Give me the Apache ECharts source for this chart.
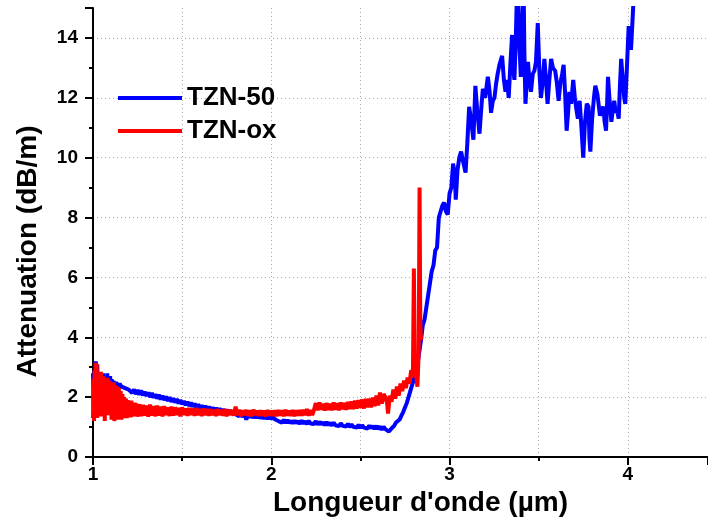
<!DOCTYPE html>
<html>
<head>
<meta charset="utf-8">
<script src="https://cdn.jsdelivr.net/npm/echarts@6/dist/echarts.min.js"></script>
<style>
html,body{margin:0;padding:0;background:#fff;}
#chart{width:708px;height:525px;}
</style>
</head>
<body>
<div id="chart"></div>
<script>
// ---- Data ----
var seriesNames = ['TZN-50', 'TZN-ox'];
var xTicks = [1, 2, 3, 4];

var blueX = [1.000,1.004,1.008,1.012,1.016,1.020,1.024,1.028,1.032,1.036,1.040,1.044,1.048,1.052,1.056,1.060,1.064,1.068,1.072,1.076,1.080,1.084,1.088,1.092,1.096,1.100,1.105,1.110,1.115,1.120,1.130,1.140,1.150,1.160,1.170,1.180,1.190,1.200,
1.210,1.220,1.230,1.240,1.250,1.260,1.270,1.280,1.290,1.300,1.310,1.320,1.330,1.340,1.350,1.360,1.370,1.380,1.390,1.400,1.410,1.420,1.430,1.440,1.450,1.460,1.470,1.480,1.490,1.500,
1.510,1.520,1.530,1.540,1.550,1.560,1.570,1.580,1.590,1.600,1.610,1.620,1.630,1.640,1.650,1.660,1.670,1.680,1.690,1.700,1.710,1.720,1.730,1.740,1.750,1.760,1.770,1.780,1.790,1.800,
1.810,1.820,1.830,1.840,1.850,1.860,1.870,1.880,1.890,1.900,1.910,1.920,1.930,1.940,1.950,1.960,1.970,1.980,1.990,2.000,2.010,2.020,2.030,2.040,2.050,2.060,2.070,2.080,2.090,2.100,
2.110,2.120,2.130,2.140,2.150,2.160,2.170,2.180,2.190,2.200,2.210,2.220,2.230,2.240,2.250,2.260,2.270,2.280,2.290,2.300,2.310,2.320,2.330,2.340,2.350,2.360,2.370,2.380,2.390,2.400,
2.410,2.420,2.430,2.440,2.450,2.460,2.470,2.480,2.490,2.500,2.510,2.520,2.530,2.540,2.550,2.560,2.570,2.580,2.590,2.600,2.610,2.620,2.630,2.640,2.650,2.660,2.670,2.680,2.690,2.700,
2.710,2.720,2.730,2.740,2.750,2.760,2.770,2.780,2.790,2.800,2.810,2.820,2.830,2.840,2.850,2.860,2.870,2.880,2.890,2.900,2.910,2.920,2.930,2.940,2.950,2.960,2.970,2.980,2.990,3.000,
3.010,3.020,3.030,3.035,3.045,3.055,3.065,3.075,3.090,3.100,3.110,3.120,3.134,3.145,3.155,3.168,3.180,3.187,3.200,3.215,3.225,3.233,3.243,3.252,3.262,3.270,3.280,3.295,3.305,3.314,
3.322,3.332,3.342,3.351,3.357,3.364,3.372,3.380,3.390,3.400,3.407,3.415,3.420,3.426,3.433,3.440,3.448,3.457,3.467,3.476,3.485,3.495,3.504,3.513,3.522,3.532,3.540,3.550,3.560,3.570,
3.580,3.593,3.602,3.612,3.622,3.632,3.640,3.648,3.657,3.665,3.672,3.682,3.694,3.703,3.712,3.720,3.730,3.740,3.750,3.760,3.770,3.780,3.785,3.790,3.800,3.810,3.818,3.830,3.844,3.853,
3.863,3.870,3.878,3.884,3.889,3.898,3.908,3.916,3.924,3.932,3.940,3.949,3.956,3.963,3.972,3.980,3.986,3.995,4.005,4.012,4.018,4.025,4.030,4.040];
var blueY = [2.80,1.60,2.90,1.50,3.20,1.60,3.10,1.70,2.60,1.50,2.80,1.80,2.70,1.70,2.80,1.90,2.70,1.80,2.60,1.90,2.80,2.00,2.60,2.00,2.70,2.10,2.60,2.20,2.55,2.30,2.50,2.35,2.45,2.35,2.40,2.30,2.32,2.25,
2.30,2.14,2.26,2.10,2.24,2.08,2.22,2.06,2.18,2.04,2.16,2.00,2.14,1.98,2.10,1.95,2.08,1.92,2.05,1.90,2.02,1.87,2.00,1.84,1.96,1.82,1.94,1.79,1.90,1.76,
1.87,1.73,1.85,1.70,1.82,1.68,1.79,1.65,1.76,1.62,1.73,1.60,1.71,1.58,1.68,1.56,1.66,1.54,1.64,1.52,1.62,1.50,1.60,1.48,1.58,1.46,1.56,1.45,1.54,1.43,
1.48,1.36,1.46,1.34,1.42,1.25,1.44,1.32,1.42,1.31,1.40,1.30,1.40,1.29,1.38,1.28,1.38,1.27,1.36,1.27,1.34,1.26,1.30,1.20,1.26,1.15,1.24,1.14,1.23,1.14,
1.21,1.12,1.22,1.13,1.20,1.11,1.22,1.12,1.19,1.10,1.21,1.12,1.18,1.10,1.20,1.08,1.18,1.09,1.16,1.06,1.17,1.07,1.14,1.05,1.15,1.06,1.12,1.03,1.13,1.04,
1.10,1.02,1.11,1.00,1.09,1.01,1.07,0.98,1.08,0.97,1.06,0.98,1.04,0.95,1.05,0.96,1.03,0.94,1.04,0.93,1.02,0.91,1.01,0.93,0.96,0.85,0.92,0.95,1.05,1.15,
1.20,1.25,1.38,1.50,1.65,1.80,2.00,2.20,2.40,2.60,2.85,3.10,3.50,3.90,4.40,4.60,5.00,5.40,5.80,6.20,6.40,6.90,7.00,8.00,8.20,8.40,8.50,8.20,8.10,8.80,
9.00,9.80,9.40,8.60,9.60,10.00,10.20,9.90,9.50,10.50,11.70,11.30,10.60,12.40,11.60,10.80,11.80,12.30,12.00,12.70,12.20,11.50,11.90,12.00,12.50,12.80,13.10,13.40,12.60,12.20,
12.60,12.00,13.20,14.10,13.00,12.60,14.00,16.00,14.00,12.70,14.50,16.00,13.50,11.80,12.50,13.20,12.60,12.20,12.80,12.90,13.20,14.50,12.90,12.00,12.50,13.30,12.70,11.80,12.60,13.30,
13.00,12.90,12.50,11.90,12.50,12.80,13.10,12.20,10.90,11.50,12.20,11.80,12.60,12.00,11.60,11.30,11.90,11.00,10.00,11.20,11.80,11.70,10.60,10.20,11.30,12.00,12.40,12.10,11.40,11.60,
11.70,11.20,10.90,11.80,12.70,11.90,11.20,11.60,11.90,11.50,11.60,11.30,12.40,13.30,12.60,12.00,11.80,13.00,14.40,14.00,13.60,14.40,15.00,16.00];

var redX = [1.000,1.003,1.006,1.009,1.012,1.015,1.018,1.021,1.024,1.027,1.030,1.033,1.036,1.039,1.042,1.045,1.048,1.051,1.054,1.057,1.060,1.063,1.066,1.069,1.072,1.075,1.078,1.081,1.084,1.087,1.090,1.093,1.096,1.100,
1.104,1.108,1.112,1.116,1.120,1.125,1.130,1.135,1.140,1.145,1.150,1.155,1.160,1.165,1.170,1.175,1.180,1.185,1.190,1.195,1.200,1.205,1.210,1.215,1.220,1.225,1.230,1.235,1.240,1.245,1.250,
1.260,1.270,1.280,1.290,1.300,1.310,1.320,1.330,1.340,1.350,1.360,1.370,1.380,1.390,1.400,1.410,1.420,1.430,1.440,1.450,1.460,1.470,1.480,1.490,1.500,1.510,1.520,1.530,1.540,1.550,
1.560,1.570,1.580,1.590,1.600,1.610,1.620,1.630,1.640,1.650,1.660,1.670,1.680,1.690,1.700,1.710,1.720,1.730,1.740,1.750,1.760,1.770,1.780,1.790,1.800,1.810,1.820,1.830,1.840,1.850,
1.860,1.870,1.880,1.890,1.900,1.910,1.920,1.930,1.940,1.950,1.960,1.970,1.980,1.990,2.000,2.010,2.020,2.030,2.040,2.050,2.060,2.070,2.080,2.090,2.100,2.110,2.120,2.130,2.140,2.150,
2.160,2.170,2.180,2.190,2.200,2.210,2.220,2.230,2.240,2.250,2.260,2.270,2.280,2.290,2.300,2.310,2.320,2.330,2.340,2.350,2.360,2.370,2.380,2.390,2.400,2.410,2.420,2.430,2.440,2.450,
2.460,2.470,2.480,2.490,2.500,2.510,2.520,2.530,2.540,2.550,2.560,2.570,2.580,2.590,2.600,2.610,2.620,2.630,2.640,2.650,2.655,2.665,2.675,2.685,2.695,2.705,2.715,2.725,2.735,2.745,
2.755,2.765,2.775,2.785,2.790,2.795,2.800,2.805,2.810,2.815,2.820,2.827,2.832,2.836,2.840];
var redY = [1.30,2.60,1.20,2.90,1.30,3.15,1.40,3.10,1.30,2.50,1.40,2.80,1.35,2.70,1.40,2.85,1.40,2.60,1.35,2.70,1.45,2.40,1.20,2.65,1.40,2.50,1.45,2.65,1.40,2.30,1.50,2.55,1.45,2.30,
1.25,2.45,1.30,2.50,1.20,2.40,1.30,2.35,1.25,2.30,1.35,2.20,1.25,2.10,1.30,2.00,1.35,1.95,1.30,1.90,1.35,1.85,1.32,1.88,1.35,1.80,1.38,1.82,1.36,1.78,1.35,
1.76,1.36,1.74,1.38,1.72,1.35,1.75,1.38,1.70,1.36,1.72,1.38,1.68,1.36,1.70,1.40,1.66,1.37,1.68,1.38,1.66,1.40,1.64,1.36,1.66,1.40,1.62,1.38,1.64,1.40,
1.62,1.38,1.64,1.40,1.60,1.37,1.62,1.40,1.60,1.38,1.60,1.40,1.58,1.37,1.60,1.40,1.58,1.38,1.60,1.36,1.58,1.40,1.57,1.38,1.68,1.40,1.58,1.36,1.56,1.40,
1.57,1.38,1.56,1.36,1.58,1.40,1.55,1.37,1.56,1.38,1.55,1.36,1.57,1.38,1.55,1.37,1.56,1.36,1.57,1.38,1.56,1.36,1.58,1.38,1.55,1.37,1.57,1.36,1.56,1.38,
1.57,1.38,1.58,1.40,1.60,1.38,1.57,1.40,1.58,1.80,1.56,1.82,1.58,1.78,1.55,1.80,1.57,1.78,1.56,1.82,1.58,1.80,1.56,1.82,1.60,1.80,1.58,1.84,1.60,1.86,
1.60,1.88,1.62,1.90,1.64,1.92,1.62,1.94,1.66,1.95,1.66,1.98,1.70,2.05,1.72,2.15,1.78,2.10,2.00,1.80,1.45,2.05,1.85,2.25,1.95,2.35,2.05,2.45,2.20,2.55,
2.30,2.65,2.45,2.90,2.65,3.00,6.30,3.00,2.90,2.60,2.35,3.50,9.00,4.50,3.90];

// ---- Chart ----
var chart = echarts.init(document.getElementById('chart'), null, {renderer: 'canvas'});
function pairs(xs, ys) { return xs.map(function (x, i) { return [x, ys[i]]; }); }
var FONT = 'Liberation Sans, Arial, sans-serif';
var gridDot = {show: true, lineStyle: {color: '#aaaaaa', width: 1, type: [1, 3]}};

chart.setOption({
  animation: false,
  backgroundColor: '#ffffff',
  grid: {left: 93, right: 0, top: 8, bottom: 68, containLabel: false},
  legend: {
    orient: 'vertical', left: 113, top: 80, itemWidth: 64, itemHeight: 4, itemGap: 7,
    icon: 'rect',
    data: seriesNames,
    textStyle: {fontFamily: FONT, fontWeight: 'bold', fontSize: 26, color: '#000', lineHeight: 26, padding: [0, 0, 0, 0]}
  },
  xAxis: {
    type: 'value', min: 1, max: 4.45, interval: 1,
    name: "Longueur d'onde (µm)", nameLocation: 'middle', nameGap: 30,
    nameTextStyle: {fontFamily: FONT, fontWeight: 'bold', fontSize: 28, color: '#000', padding: [0, 0, 0, 40]},
    axisLine: {show: true, onZero: false, lineStyle: {color: '#000', width: 2}},
    axisTick: {show: true, length: 8, lineStyle: {color: '#000', width: 2}},
    minorTick: {show: true, splitNumber: 2, length: 4, lineStyle: {color: '#000', width: 2}},
    splitLine: Object.assign({showMinLine: false, showMaxLine: false}, gridDot),
    minorSplitLine: gridDot,
    axisLabel: {
      fontFamily: FONT, fontWeight: 'bold', fontSize: 19, color: '#000', margin: 8, showMaxLabel: false,
      formatter: function (v) { return xTicks.indexOf(v) >= 0 ? String(v) : ''; }
    }
  },
  yAxis: {
    type: 'value', min: 0, max: 15, interval: 2,
    name: 'Attenuation (dB/m)', nameLocation: 'middle', nameGap: 51,
    nameTextStyle: {fontFamily: FONT, fontWeight: 'bold', fontSize: 28, color: '#000', padding: [0, 38, 0, 0]},
    axisLine: {show: true, onZero: false, lineStyle: {color: '#000', width: 2}},
    axisTick: {show: true, length: 8, lineStyle: {color: '#000', width: 2}},
    minorTick: {show: true, splitNumber: 2, length: 4, lineStyle: {color: '#000', width: 2}},
    splitLine: Object.assign({showMinLine: false, showMaxLine: false}, gridDot),
    axisLabel: {fontFamily: FONT, fontWeight: 'bold', fontSize: 19, color: '#000', margin: 15, showMaxLabel: false}
  },
  series: [
    {name: seriesNames[0], type: 'line', data: pairs(blueX, blueY), showSymbol: false, symbol: 'none',
     color: '#0000ff', lineStyle: {color: '#0000ff', width: 4}, clip: true, z: 2},
    {name: seriesNames[1], type: 'line', data: pairs(redX, redY), showSymbol: false, symbol: 'none',
     color: '#ff0000', lineStyle: {color: '#ff0000', width: 4}, clip: true, z: 3}
  ]
});
</script>
</body>
</html>
